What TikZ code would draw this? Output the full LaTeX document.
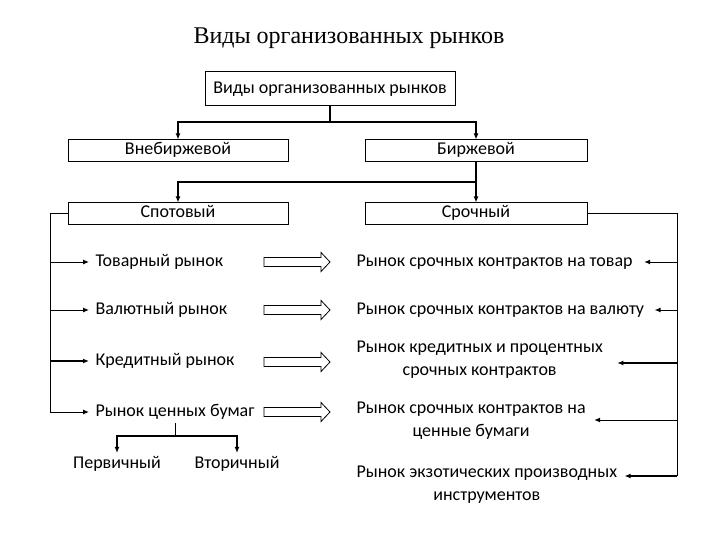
\documentclass[tikz,border=0pt]{standalone}
\usepackage{fontspec}
\setmainfont{Carlito}
\newfontfamily\titlefont{Liberation Serif}
\usetikzlibrary{arrows.meta}

\begin{document}
\begin{tikzpicture}[x=1pt, y=-1pt, font=\fontsize{18}{23}\selectfont, >={Latex[length=6pt,width=5pt]}]
				\useasboundingbox (0,0) rectangle (720,540);
				\node[font=\titlefont\fontsize{24}{28}\selectfont] (T)at(349,38) {Виды организованных рынков};
				\node[draw, line width=1pt, minimum width=250, minimum height=34] (A)at(330,89) {Виды организованных рынков};
				\node[draw, line width=1pt, minimum width=220, minimum height=22, inner sep=0pt, text height=12pt, text depth=4pt] (B)at(178,151) {Внебиржевой};
				\node[draw, line width=1pt, minimum width=222, minimum height=22, inner sep=0pt, text height=12pt, text depth=4pt] (C)at(476,151) {Биржевой};
				\node[draw, line width=1pt, minimum width=220, minimum height=22, inner sep=0pt, text height=12pt, text depth=4pt] (D)at(178,214) {Спотовый};
				\node[draw, line width=1pt, minimum width=222, minimum height=22, inner sep=0pt, text height=12pt, text depth=4pt] (E)at(476,214) {Срочный};
				\node[anchor=west] (F1)at(92,262) {Товарный рынок};
				\node[anchor=west] (F2)at(92,310) {Валютный рынок};
				\node[anchor=west] (F3)at(92,361) {Кредитный рынок};
				\node[anchor=west] (F4)at(92,412) {Рынок ценных бумаг};
				\node (H1)at(117,464) {Первичный};
				\node (H2)at(237,464) {Вторичный};
				\node[anchor=west, align=center] (G1)at(353,262) {Рынок срочных контрактов на товар};
				\node[anchor=west, align=center] (G2)at(353,310) {Рынок срочных контрактов на валюту};
				\node[anchor=west, align=center] (G3)at(353,360) {Рынок кредитных и процентных\\срочных контрактов};
				\node[anchor=west, align=center] (G4)at(353,421) {Рынок срочных контрактов на\\ценные бумаги};
				\node[anchor=west, align=center] (G5)at(353,485) {Рынок экзотических производных\\инструментов};
				\coordinate (L)at(50,214);
				\coordinate (R)at(677,214);
				\draw[line width=2pt, ->] (A.south) -- ++(0,16) -| (B.north);
				\draw[line width=2pt, ->] (A.south) -- ++(0,16) -| (C.north);
				\draw[line width=2pt, ->] (C.south) -- (E.north);
				\draw[line width=2pt, ->] (C.south) ++(0,20) -| (D.north);
				\draw[line width=1pt] (D.west) -- (L) -- (L |- F4.west);
				\draw[line width=1pt, ->] (L |- F1.west) -- ([xshift=-3pt]F1.west);
				\draw[line width=1pt, ->] (L |- F2.west) -- ([xshift=-3pt]F2.west);
				\draw[line width=1.6pt, ->] (L |- F3.west) -- ([xshift=-3pt]F3.west);
				\draw[line width=1pt, ->] (L |- F4.west) -- ([xshift=-3pt]F4.west);
				\draw[line width=1pt] (E.east) -- (R) -- (R |- 0,476);
				\draw[line width=1pt, ->] (R |- G1.east) -- ([xshift=8pt]G1.east);
				\draw[line width=1pt, ->] (R |- G2.east) -- ([xshift=7pt]G2.east);
				\draw[line width=1.6pt, ->] (R |- 0,363) -- ([xshift=11pt]G3.east |- 0,363);
				\draw[line width=1pt, ->] (R |- 0,420) -- ([xshift=5pt]G4.east |- 0,420);
				\draw[line width=1.6pt, ->] (R |- 0,476) -- ([xshift=4pt]G5.east |- 0,476);
				\draw[line width=1pt] (F4.south) -- ++(0,13);
				\draw[line width=1.4pt, ->] (F4.south) ++(0,13) -| (H1.north);
				\draw[line width=1.4pt, ->] (F4.south) ++(0,13) -| (H2.north);
				\draw[line width=0.8pt] (264,257.5) -- (321,257.5) -- (321,252.5) -- (330,262) -- (321,271.5) -- (321,266.5) -- (264,266.5) -- cycle;
				\draw[line width=0.8pt] (264,305.5) -- (321,305.5) -- (321,300.5) -- (330,310) -- (321,319.5) -- (321,314.5) -- (264,314.5) -- cycle;
				\draw[line width=0.8pt] (264,357.5) -- (321,357.5) -- (321,352.5) -- (330,362) -- (321,371.5) -- (321,366.5) -- (264,366.5) -- cycle;
				\draw[line width=0.8pt] (264,407.5) -- (321,407.5) -- (321,402.5) -- (330,412) -- (321,421.5) -- (321,416.5) -- (264,416.5) -- cycle;
			\end{tikzpicture}
\end{document}
